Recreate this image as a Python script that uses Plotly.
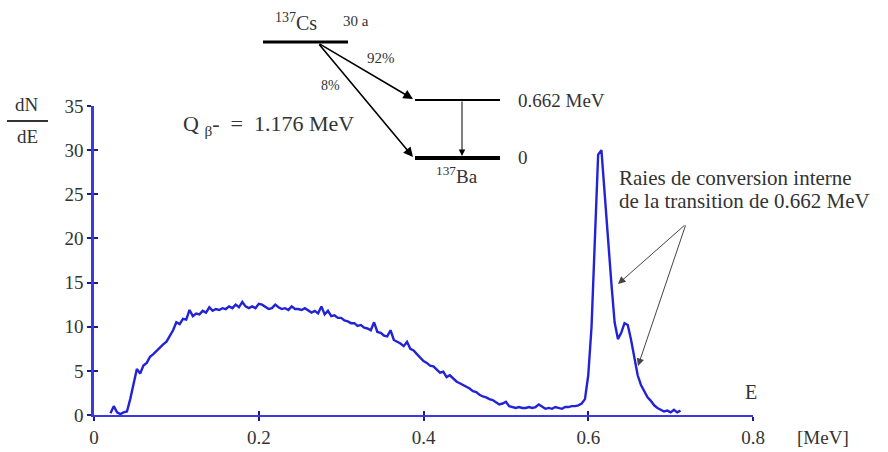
import plotly.graph_objects as go

# Beta spectrum of 137Cs (dN/dE vs E in MeV)
energy_mev = [
    0.020, 0.024, 0.028, 0.032, 0.036, 0.040, 0.044, 0.048, 0.052, 0.056,
    0.060, 0.064, 0.068, 0.072, 0.076, 0.080, 0.084, 0.088, 0.092, 0.096,
    0.100, 0.104, 0.108, 0.112, 0.116, 0.120, 0.124, 0.128, 0.132, 0.136,
    0.140, 0.144, 0.148, 0.152, 0.156, 0.160, 0.164, 0.168, 0.172, 0.176,
    0.180, 0.184, 0.188, 0.192, 0.196, 0.200, 0.204, 0.208, 0.212, 0.216,
    0.220, 0.224, 0.228, 0.232, 0.236, 0.240, 0.244, 0.248, 0.252, 0.256,
    0.260, 0.264, 0.268, 0.272, 0.276, 0.280, 0.284, 0.288, 0.292, 0.296,
    0.300, 0.304, 0.308, 0.312, 0.316, 0.320, 0.324, 0.328, 0.332, 0.336,
    0.340, 0.344, 0.348, 0.352, 0.356, 0.360, 0.364, 0.368, 0.372, 0.376,
    0.380, 0.384, 0.388, 0.392, 0.396, 0.400, 0.404, 0.408, 0.412, 0.416,
    0.420, 0.424, 0.428, 0.432, 0.436, 0.440, 0.444, 0.448, 0.452, 0.456,
    0.460, 0.464, 0.468, 0.472, 0.476, 0.480, 0.484, 0.488, 0.492, 0.496,
    0.500, 0.504, 0.508, 0.512, 0.516, 0.520, 0.524, 0.528, 0.532, 0.536,
    0.540, 0.544, 0.548, 0.552, 0.556, 0.560, 0.564, 0.568, 0.572, 0.576,
    0.580, 0.584, 0.588, 0.592, 0.596, 0.600, 0.604, 0.608, 0.612, 0.616,
    0.620, 0.624, 0.628, 0.632, 0.636, 0.640, 0.644, 0.648, 0.652, 0.656,
    0.660, 0.664, 0.668, 0.672, 0.676, 0.680, 0.684, 0.688, 0.692, 0.696,
    0.700, 0.704, 0.708, 0.712,
]
dn_de = [
    0.2, 1.0, 0.3, 0.1, 0.3, 0.4, 1.8, 3.6, 5.2, 4.7,
    5.6, 5.9, 6.6, 6.9, 7.3, 7.6, 8.0, 8.3, 8.9, 9.6,
    10.5, 10.3, 10.9, 10.8, 11.9, 11.2, 11.5, 11.4, 11.8, 11.6,
    12.2, 11.8, 12.0, 11.9, 12.1, 12.0, 12.3, 12.1, 12.5, 12.2,
    12.8, 12.3, 12.1, 12.3, 12.1, 12.6, 12.5, 12.2, 12.0, 12.1,
    12.5, 12.2, 12.0, 12.1, 11.9, 12.3, 12.0, 12.0, 11.9, 12.1,
    11.8, 11.6, 11.8, 11.5, 12.3, 11.4, 11.8, 11.2, 11.3, 11.0,
    11.0, 10.7, 10.6, 10.4, 10.4, 10.1, 10.2, 9.9, 9.8, 9.6,
    10.5, 9.4, 9.3, 9.0, 8.9, 9.6, 8.5, 8.3, 8.1, 7.8,
    8.3, 7.5, 7.3, 6.9, 6.5, 6.1, 5.9, 5.6, 5.5, 5.2,
    4.8, 4.9, 4.3, 4.5, 4.1, 3.8, 3.6, 3.4, 3.2, 3.0,
    2.7, 2.6, 2.3, 2.1, 2.0, 1.8, 1.7, 1.4, 1.2, 1.3,
    1.5, 1.0, 0.9, 0.8, 0.9, 0.8, 0.8, 0.9, 0.8, 0.9,
    1.2, 0.9, 0.7, 0.8, 0.7, 0.9, 0.8, 0.7, 0.9, 0.9,
    1.0, 1.0, 1.1, 1.3, 1.8, 4.5, 10.0, 20.0, 29.5, 30.0,
    24.5, 20.0, 15.0, 10.5, 8.6, 9.3, 10.4, 10.2, 8.5, 6.3,
    4.5, 3.4, 2.6, 2.0, 1.6, 1.1, 0.8, 0.6, 0.4, 0.5,
    0.3, 0.6, 0.3, 0.5,
]

x_ticks = [0, 0.2, 0.4, 0.6, 0.8]
x_tick_labels = ["0", "0.2", "0.4", "0.6", "0.8"]
y_ticks = [0, 5, 10, 15, 20, 25, 30, 35]

W, H = 888, 452
L, R, T, B = 94, 753, 106, 415  # plot area in pixels

def px(x):
    return (x - L) / (R - L)

def py(y):
    return (B - y) / (B - T)

SERIF = "Liberation Serif, Times New Roman, DejaVu Serif, serif"
BLUE = "#2323d6"
AXIS = "#3a3ae0"
TICK = "#1a1a90"
TXT = "#333333"

fig = go.Figure()
fig.add_trace(go.Scatter(x=energy_mev, y=dn_de, mode="lines",
                         line=dict(color=BLUE, width=2.4), hoverinfo="skip",
                         showlegend=False))

common_axis = dict(showgrid=False, zeroline=False, showline=True,
                   automargin=False,
                   linecolor=AXIS, ticks="outside", ticklen=4, tickwidth=2,
                   tickcolor=TICK,
                   tickfont=dict(family=SERIF, size=19, color=TXT))

fig.update_layout(
    width=W, height=H,
    font=dict(family=SERIF, color=TXT),
    margin=dict(l=L, r=W - R, t=T, b=H - B, pad=0, autoexpand=False),
    paper_bgcolor="white", plot_bgcolor="white",
    showlegend=False,
    xaxis=dict(range=[0, 0.8], tickvals=x_ticks, ticktext=x_tick_labels,
               linewidth=1.5, **common_axis),
    yaxis=dict(range=[0, 35], tickvals=y_ticks, linewidth=2.5, **common_axis),
    xaxis2=dict(overlaying="x", matches="x", anchor="y", range=[0, 0.8],
                tickvals=x_ticks, ticks="inside", ticklen=4, tickwidth=2,
                tickcolor=TICK, showticklabels=False, showline=False,
                showgrid=False, zeroline=False, automargin=False),
    yaxis2=dict(overlaying="y", matches="y", anchor="x", range=[0, 35],
                tickvals=y_ticks, ticks="inside", ticklen=4, tickwidth=2,
                tickcolor=TICK, showticklabels=False, showline=False,
                showgrid=False, zeroline=False, automargin=False),
)
# invisible trace so that the overlay axes are drawn
fig.add_trace(go.Scatter(x=[0], y=[0], xaxis="x2", yaxis="y2", mode="markers",
                         marker=dict(opacity=0), hoverinfo="skip",
                         showlegend=False))

shapes = []
annotations = []

def text(x, y, s, size=18, xanchor="center", color=TXT):
    annotations.append(dict(x=px(x), y=py(y), xref="paper", yref="paper",
                            text=s, showarrow=False, xanchor=xanchor,
                            yanchor="middle",
                            font=dict(family=SERIF, size=size, color=color)))

def line(x0, y0, x1, y1, width=1.5, color="black"):
    shapes.append(dict(type="line", xref="paper", yref="paper",
                       x0=px(x0), y0=py(y0), x1=px(x1), y1=py(y1),
                       line=dict(color=color, width=width)))

def arrow(x0, y0, x1, y1, width=1.5, color="black", head=2, size=1.2):
    annotations.append(dict(x=px(x1), y=py(y1), xref="paper", yref="paper",
                            ax=x0 - x1, ay=y0 - y1, axref="pixel", ayref="pixel",
                            text="", showarrow=True, arrowhead=head,
                            arrowsize=size, arrowwidth=width,
                            arrowcolor=color))

# y-axis label dN/dE
text(27, 104, "dN", 19)
line(7, 121, 48, 121, width=2, color="#333333")
text(27, 136, "dE", 19)

# x-axis labels
text(751, 392, "E", 20)
text(823, 437, "[MeV]", 19)

# decay scheme
line(263, 42, 348, 42, width=3)
text(296, 22, "<sup>137</sup>Cs", 20)
text(356, 21, "30 a", 15)
arrow(318, 43, 413, 99, width=1.6)
arrow(318, 43, 413, 157, width=1.6)
text(381, 58, "92%", 15)
text(330, 85, "8%", 14)
line(415, 100, 500, 100, width=2)
line(415, 158, 500, 158, width=4)
arrow(462, 100, 462, 156, width=1, size=1.3)
text(457, 175, "<sup>137</sup>Ba", 19)
text(516, 100, "0.662 MeV", 19, xanchor="left")
text(516, 157, "0", 19, xanchor="left")
text(181, 125, "Q <sub>β</sub>-  =  1.176 MeV", 22, xanchor="left")

# conversion lines annotation
text(617, 178, "Raies de conversion interne", 21, xanchor="left")
text(617, 201, "de la transition de 0.662 MeV", 21, xanchor="left")
arrow(686, 224, 618, 284, width=1, color="#444444", size=1.5)
arrow(686, 224, 638, 366, width=1, color="#444444", size=1.5)

fig.update_layout(shapes=shapes, annotations=annotations)

fig.write_html("out.html",
               config={"displayModeBar": False},
               post_script="document.body.style.margin='0';"
                           "document.body.style.overflow='hidden';")
